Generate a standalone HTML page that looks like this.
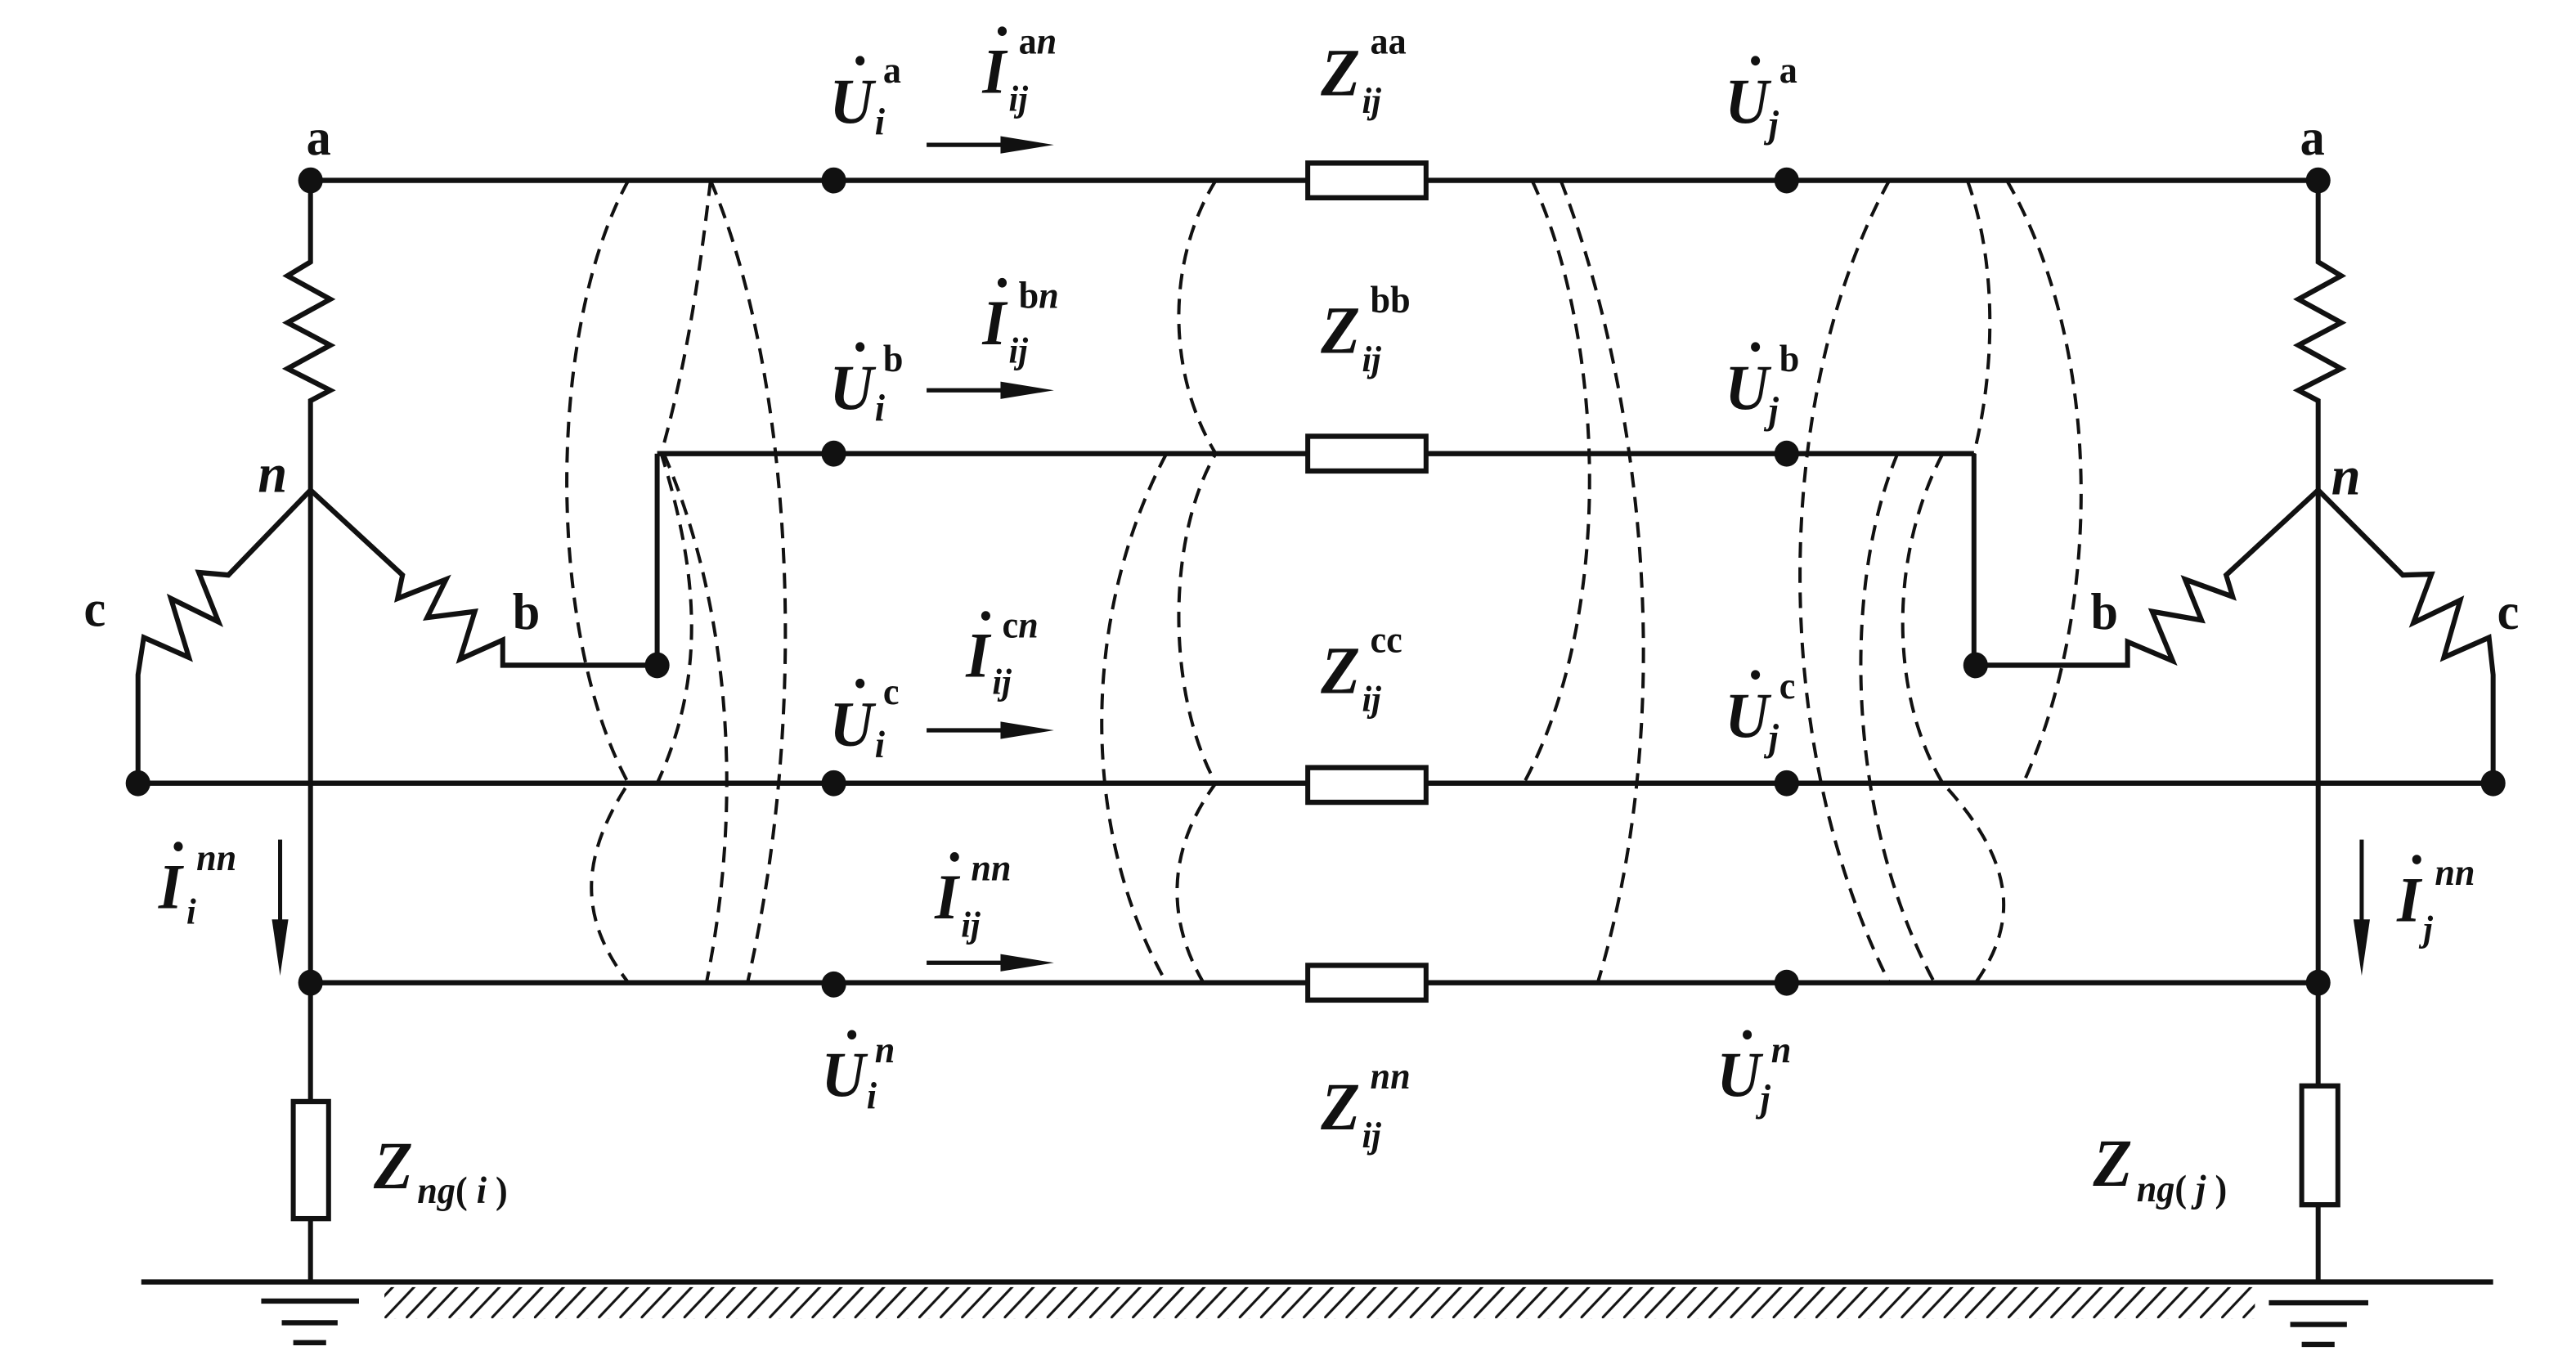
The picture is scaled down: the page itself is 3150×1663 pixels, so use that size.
<!DOCTYPE html>
<html><head><meta charset="utf-8"><style>
html,body{margin:0;padding:0;background:#fff}
svg{display:block}
text{font-family:"Liberation Serif",serif;font-weight:bold;fill:#111}
.it{font-style:italic}
</style></head><body>
<svg width="3150" height="1663" viewBox="0 0 3150 1663" xmlns="http://www.w3.org/2000/svg">
<defs><pattern id="hp" width="26" height="40" patternUnits="userSpaceOnUse"><line x1="0" y1="40" x2="40" y2="0" stroke="#111" stroke-width="3"/><line x1="-26" y1="40" x2="14" y2="0" stroke="#111" stroke-width="3"/></pattern></defs>
<g transform="scale(1.0045 1.0606)">
<g stroke="#111" stroke-width="6" fill="none">
<line x1="378" y1="208" x2="2822" y2="208"/>
<line x1="800" y1="523" x2="2403" y2="523"/>
<line x1="168" y1="903" x2="3035" y2="903"/>
<line x1="378" y1="1133" x2="2822" y2="1133"/>
<polyline points="378,208 378,302 350,318 402,345 350,372 402,398 350,425 402,450 378,462 378,1480"/>
<polyline points="2822,208 2822,302 2850,318 2798,345 2850,372 2798,398 2850,425 2798,450 2822,462 2822,1480"/>
<polyline points="378,565 278,663 242,660 266,717 208,690 230,758 175,735 168,778 168,903"/>
<polyline points="378,565 490,663 484,690 543,668 520,712 578,705 560,760 612,738 612,767 800,767"/>
<line x1="800" y1="523" x2="800" y2="767"/>
<polyline points="2822,565 2710,663 2718,688 2660,668 2680,715 2620,705 2645,762 2590,740 2590,767 2405,767"/>
<polyline points="2822,565 2925,663 2960,662 2938,718 2995,692 2975,758 3030,735 3035,778 3035,903"/>
<line x1="2403" y1="523" x2="2403" y2="767"/>
<rect x="357" y="1270" width="43" height="135" fill="#fff"/>
<rect x="2802" y="1252" width="44" height="137" fill="#fff"/>
<rect x="1592" y="188" width="144" height="40" fill="#fff"/>
<rect x="1592" y="503" width="144" height="40" fill="#fff"/>
<rect x="1592" y="885" width="144" height="40" fill="#fff"/>
<rect x="1592" y="1113" width="144" height="40" fill="#fff"/>
<line x1="172" y1="1478" x2="3035" y2="1478"/>
<line x1="318" y1="1500" x2="437" y2="1500"/>
<line x1="343" y1="1525" x2="411" y2="1525"/>
<line x1="357" y1="1548" x2="397" y2="1548"/>
<line x1="2762" y1="1502" x2="2883" y2="1502"/>
<line x1="2788" y1="1527" x2="2857" y2="1527"/>
<line x1="2802" y1="1550" x2="2842" y2="1550"/>
</g>
<rect x="468" y="1484" width="2277" height="36" fill="url(#hp)"/>
<g stroke="#111" stroke-width="5" fill="#111">
<line x1="1128" y1="167" x2="1240" y2="167"/><polygon points="1283,167 1218,157 1218,177" stroke="none"/>
<line x1="1128" y1="450" x2="1240" y2="450"/><polygon points="1283,450 1218,440 1218,460" stroke="none"/>
<line x1="1128" y1="842" x2="1240" y2="842"/><polygon points="1283,842 1218,832 1218,852" stroke="none"/>
<line x1="1128" y1="1110" x2="1240" y2="1110"/><polygon points="1283,1110 1218,1100 1218,1120" stroke="none"/>
<line x1="341" y1="968" x2="341" y2="1080"/><polygon points="341,1125 331,1060 351,1060" stroke="none"/>
<line x1="2875" y1="968" x2="2875" y2="1080"/><polygon points="2875,1125 2865,1060 2885,1060" stroke="none"/>
</g>
<g fill="#111">
<circle cx="378" cy="208" r="15"/><circle cx="1015" cy="208" r="15"/><circle cx="2175" cy="208" r="15"/><circle cx="2822" cy="208" r="15"/>
<circle cx="1015" cy="523" r="15"/><circle cx="2175" cy="523" r="15"/>
<circle cx="800" cy="767" r="15"/><circle cx="2405" cy="767" r="15"/>
<circle cx="168" cy="903" r="15"/><circle cx="1015" cy="903" r="15"/><circle cx="2175" cy="903" r="15"/><circle cx="3035" cy="903" r="15"/>
<circle cx="378" cy="1133" r="15"/><circle cx="1015" cy="1135" r="15"/><circle cx="2175" cy="1133" r="15"/><circle cx="2822" cy="1133" r="15"/>
</g>
<g stroke="#111" stroke-width="4" fill="none" stroke-dasharray="18,11">
<path d="M765,208 C665,380 665,730 765,903 C705,990 705,1060 765,1133"/>
<path d="M865,208 C850,330 835,420 805,523 C850,660 860,780 800,903"/>
<path d="M808,523 C880,680 910,900 860,1133"/>
<path d="M865,208 C960,420 990,800 910,1133"/>
<path d="M1480,208 C1420,300 1420,430 1480,523 C1420,620 1420,800 1480,903 C1420,980 1420,1060 1465,1133"/>
<path d="M1420,523 C1320,700 1310,950 1420,1133"/>
<path d="M1865,208 C1950,380 1970,700 1855,903"/>
<path d="M1900,208 C1990,430 2050,800 1945,1133"/>
<path d="M2300,208 C2160,450 2150,850 2300,1133"/>
<path d="M2310,523 C2240,680 2250,950 2355,1133"/>
<path d="M2365,523 C2300,640 2300,800 2365,903 C2450,990 2460,1060 2405,1133"/>
<path d="M2395,208 C2430,300 2430,420 2403,523"/>
<path d="M2443,208 C2560,400 2560,700 2463,903"/>
</g>
<text x="373" y="178" font-size="60">a</text>
<text x="2800" y="178" font-size="60">a</text>
<text x="314" y="567" font-size="64" class="it">n</text>
<text x="2838" y="570" font-size="64" class="it">n</text>
<text x="102" y="722" font-size="60">c</text>
<text x="3040" y="725" font-size="60">c</text>
<text x="624" y="725" font-size="60">b</text>
<text x="2545" y="725" font-size="60">b</text>
<g font-size="74">
<text x="1010" y="142" class="it">U</text><text x="1075" y="95" font-size="44">a</text><text x="1065" y="155" font-size="44" class="it">i</text>
<text x="1010" y="472" class="it">U</text><text x="1075" y="428" font-size="44">b</text><text x="1065" y="485" font-size="44" class="it">i</text>
<text x="1010" y="860" class="it">U</text><text x="1075" y="812" font-size="44">c</text><text x="1065" y="873" font-size="44" class="it">i</text>
<text x="1000" y="1264" class="it">U</text><text x="1065" y="1225" font-size="44" class="it">n</text><text x="1055" y="1278" font-size="44" class="it">i</text>
<text x="2100" y="142" class="it">U</text><text x="2166" y="95" font-size="44">a</text><text x="2153" y="158" font-size="44" class="it">j</text>
<text x="2100" y="472" class="it">U</text><text x="2166" y="428" font-size="44">b</text><text x="2153" y="488" font-size="44" class="it">j</text>
<text x="2100" y="850" class="it">U</text><text x="2166" y="805" font-size="44">c</text><text x="2153" y="865" font-size="44" class="it">j</text>
<text x="2090" y="1264" class="it">U</text><text x="2156" y="1225" font-size="44" class="it">n</text><text x="2143" y="1281" font-size="44" class="it">j</text>
<text x="1196" y="107" class="it">I</text><text x="1240" y="62" font-size="44">a<tspan class="it">n</tspan></text><text x="1228" y="128" font-size="42" class="it">ij</text>
<text x="1196" y="397" class="it">I</text><text x="1240" y="355" font-size="44">b<tspan class="it">n</tspan></text><text x="1228" y="418" font-size="42" class="it">ij</text>
<text x="1176" y="780" class="it">I</text><text x="1220" y="735" font-size="44">c<tspan class="it">n</tspan></text><text x="1208" y="800" font-size="42" class="it">ij</text>
<text x="1138" y="1059" class="it">I</text><text x="1182" y="1015" font-size="44" class="it">nn</text><text x="1170" y="1080" font-size="42" class="it">ij</text>
<text x="193" y="1047" class="it">I</text><text x="239" y="1003" font-size="44" class="it">nn</text><text x="227" y="1065" font-size="42" class="it">i</text>
<text x="2918" y="1062" class="it">I</text><text x="2964" y="1020" font-size="44" class="it">nn</text><text x="2950" y="1085" font-size="42" class="it">j</text>
<text x="1608" y="110" font-size="78" class="it">Z</text><text x="1668" y="62" font-size="44">aa</text><text x="1658" y="130" font-size="42" class="it">ij</text>
<text x="1608" y="407" font-size="78" class="it">Z</text><text x="1668" y="360" font-size="44">bb</text><text x="1658" y="428" font-size="42" class="it">ij</text>
<text x="1608" y="799" font-size="78" class="it">Z</text><text x="1668" y="752" font-size="44">cc</text><text x="1658" y="820" font-size="42" class="it">ij</text>
<text x="1608" y="1302" font-size="78" class="it">Z</text><text x="1668" y="1255" font-size="44" class="it">nn</text><text x="1658" y="1323" font-size="42" class="it">ij</text>
<text x="455" y="1370" font-size="78" class="it">Z</text><text x="508" y="1387" font-size="44"><tspan class="it">ng</tspan>(<tspan class="it"> i </tspan>)</text>
<text x="2548" y="1367" font-size="78" class="it">Z</text><text x="2601" y="1385" font-size="44"><tspan class="it">ng</tspan>(<tspan class="it"> j </tspan>)</text>
</g>
<g fill="#111">
<circle cx="1047" cy="70" r="5.5"/><circle cx="1047" cy="400" r="5.5"/><circle cx="1047" cy="788" r="5.5"/><circle cx="1037" cy="1193" r="5.5"/>
<circle cx="2137" cy="70" r="5.5"/><circle cx="2137" cy="400" r="5.5"/><circle cx="2137" cy="778" r="5.5"/><circle cx="2127" cy="1193" r="5.5"/>
<circle cx="1220" cy="36" r="5.5"/><circle cx="1220" cy="326" r="5.5"/><circle cx="1200" cy="710" r="5.5"/><circle cx="1162" cy="988" r="5.5"/>
<circle cx="217" cy="976" r="5.5"/><circle cx="2942" cy="991" r="5.5"/>
</g>
</g>
</svg>
</body></html>
